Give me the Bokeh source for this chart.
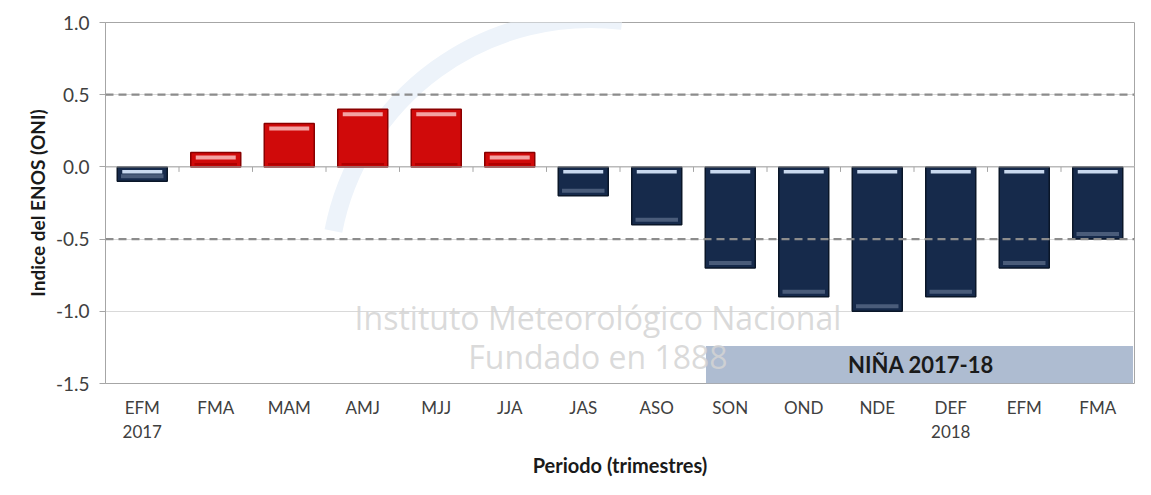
from bokeh.plotting import figure
from bokeh.models import FixedTicker, Span
from bokeh.core.properties import value
from bokeh.embed import file_html
from bokeh.resources import INLINE

# ---- data ----
periods = ["EFM\n2017", "FMA", "MAM", "AMJ", "MJJ", "JJA", "JAS", "ASO",
           "SON", "OND", "NDE", "DEF\n2018", "EFM", "FMA"]
oni = [-0.1, 0.1, 0.3, 0.4, 0.4, 0.1, -0.2, -0.4, -0.7, -0.9, -1.0, -0.9, -0.7, -0.5]
y_ticks = [1.0, 0.5, 0.0, -0.5, -1.0, -1.5]
y_tick_labels = ["1.0", "0.5", "0.0", "-0.5", "-1.0", "-1.5"]
thresholds = [0.5, -0.5]
nina_label = "NIÑA 2017-18"
nina_start, nina_end = 7.67, 13.48
nina_top = -1.24

FONT = "Lato"
W, H = 1135, 479
p = figure(width=W, height=H, x_range=(-0.5, len(oni) - 0.5), y_range=(-1.5, 1.0),
           output_backend="svg", toolbar_location=None,
           min_border_left=105, min_border_right=1, min_border_top=22, min_border_bottom=96)
p.outline_line_color = "#a6a6a6"
p.background_fill_color = "white"
p.border_fill_color = "white"

px = 2.5 / 361.0  # data units per pixel (approx)
xs = list(range(len(oni)))
bw = 0.68

# watermark arc (logo)
p.arc(x=[6.1], y=[-0.79], radius=262, radius_units="screen", start_angle=1.45, end_angle=2.95,
      line_color="#edf3fa", line_width=18)

# bars
pos_x = [x for x, v in zip(xs, oni) if v > 0]
pos_v = [v for v in oni if v > 0]
neg_x = [x for x, v in zip(xs, oni) if v < 0]
neg_v = [v for v in oni if v < 0]

p.vbar(x=pos_x, top=pos_v, bottom=0, width=bw, fill_color="#d00a0a", line_color="#8a0000", line_width=1.5)
p.vbar(x=pos_x, top=[v - 3 * px for v in pos_v], bottom=[v - 7 * px for v in pos_v], width=bw * 0.8,
       fill_color="#f3a3a3", line_color=None)
p.vbar(x=pos_x, top=[4 * px] * len(pos_x), bottom=[1.5 * px] * len(pos_x), width=bw * 0.85,
       fill_color="#b00000", line_color=None)

p.vbar(x=neg_x, top=0, bottom=neg_v, width=bw, fill_color="#162a4b", line_color="#0a1628", line_width=1.5)
p.vbar(x=neg_x, top=[-3 * px] * len(neg_x), bottom=[-6.5 * px] * len(neg_x), width=bw * 0.8,
       fill_color="#c9d9ef", line_color=None)
p.vbar(x=neg_x, top=[v + 7 * px for v in neg_v], bottom=[v + 3 * px for v in neg_v], width=bw * 0.85,
       fill_color="#4a5c7a", line_color=None)

# zero line with category-boundary ticks
p.add_layout(Span(location=0, dimension="width", line_color="#a6a6a6", line_width=1))
bx = [i + 0.5 for i in range(len(oni) - 1)]
p.segment(x0=bx, y0=[0] * len(bx), x1=bx, y1=[-5 * px] * len(bx), line_color="#a6a6a6", line_width=1)

# Niña box
p.quad(left=[nina_start], right=[nina_end], top=[nina_top], bottom=[-1.5],
       fill_color="#aebcd1", line_color=None)

# watermark text
p.text(x=[6.2, 6.2], y=[-1.045, -1.31], text=["Instituto Meteorológico Nacional", "Fundado en 1888"],
       text_font=value("Open Sans"), text_font_size="32px", text_color="#d4d4d4",
       text_align="center", text_baseline="middle", text_alpha=0.85)

p.text(x=[(nina_start + nina_end) / 2 + 0.02], y=[-1.37], text=[nina_label],
       text_font=value(FONT), text_font_size="22px", text_font_style="bold", text_color="#1a1a1a",
       text_align="center", text_baseline="middle")

# threshold dashed lines
for t in thresholds:
    p.add_layout(Span(location=t, dimension="width", line_color="#8c8c8c", line_width=2.2,
                      line_dash="8 5"))

# axes
p.xaxis.ticker = FixedTicker(ticks=xs)
p.xaxis.major_label_overrides = {i: lab for i, lab in enumerate(periods)}
p.xaxis.axis_line_color = None
p.xaxis.major_tick_line_color = None
p.xaxis.major_tick_out = 0
p.xaxis.major_tick_in = 0
p.xaxis.minor_tick_line_color = None
p.xaxis.minor_tick_out = 0
p.xaxis.major_label_standoff = 13
p.xaxis.major_label_text_font = FONT
p.xaxis.major_label_text_font_size = "17px"
p.xaxis.major_label_text_line_height = 1.15
p.xaxis.major_label_text_color = "#404040"
p.xaxis.axis_label = "Periodo (trimestres)"
p.xaxis.axis_label_text_font = FONT
p.xaxis.axis_label_text_font_size = "20px"
p.xaxis.axis_label_text_font_style = "bold"
p.xaxis.axis_label_text_color = "#1a1a1a"
p.xaxis.axis_label_standoff = 8

p.yaxis.ticker = FixedTicker(ticks=y_ticks)
p.yaxis.major_label_overrides = {t: l for t, l in zip(y_ticks, y_tick_labels)}
p.yaxis.axis_line_color = "#a6a6a6"
p.yaxis.major_tick_line_color = "#a6a6a6"
p.yaxis.major_tick_out = 6
p.yaxis.major_tick_in = 0
p.yaxis.minor_tick_line_color = None
p.yaxis.major_label_standoff = 10
p.yaxis.major_label_text_font = FONT
p.yaxis.major_label_text_font_size = "19px"
p.yaxis.major_label_text_color = "#404040"
p.yaxis.axis_label = "Indice del ENOS (ONI)"
p.yaxis.axis_label_text_font = FONT
p.yaxis.axis_label_text_font_size = "19px"
p.yaxis.axis_label_text_font_style = "bold"
p.yaxis.axis_label_text_color = "#1a1a1a"
p.yaxis.axis_label_standoff = 4

p.xgrid.grid_line_color = None
p.ygrid.ticker = FixedTicker(ticks=y_ticks)
p.ygrid.grid_line_color = "#d9d9d9"

open("out.html", "w").write(file_html(p, INLINE))
